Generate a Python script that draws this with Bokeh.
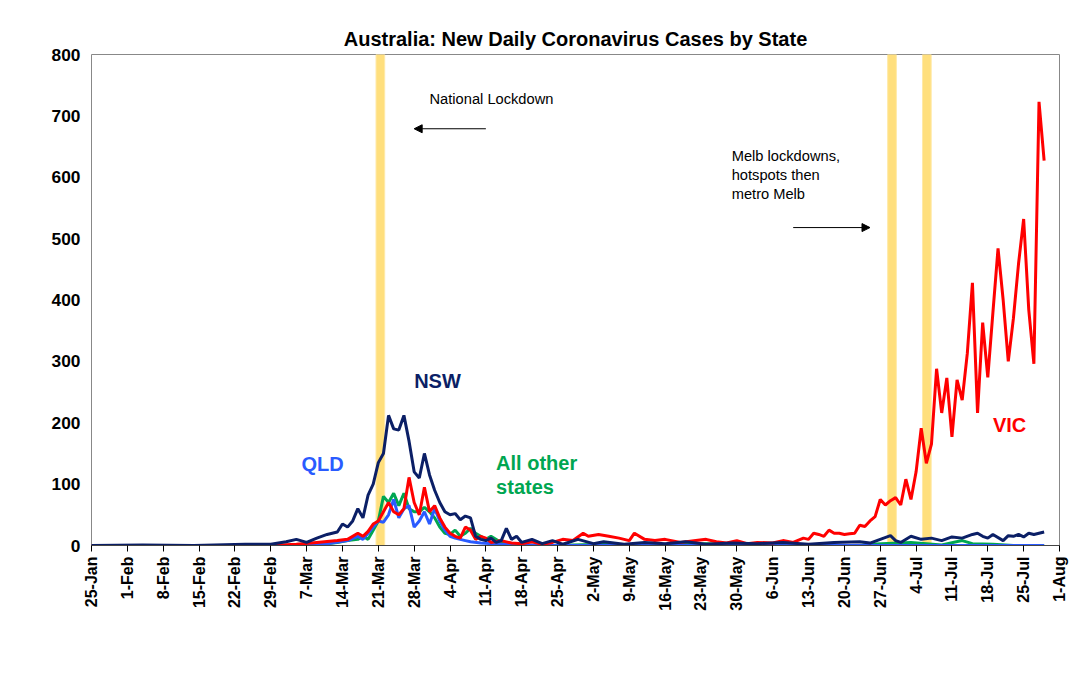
from bokeh.plotting import figure
from bokeh.models import Label, Arrow, NormalHead, FixedTicker, Range1d
from bokeh.embed import file_html
from bokeh.resources import INLINE
import math

tick_days = list(range(0, 190, 7))
tick_labels = ["25-Jan","1-Feb","8-Feb","15-Feb","22-Feb","29-Feb","7-Mar","14-Mar","21-Mar","28-Mar",
               "4-Apr","11-Apr","18-Apr","25-Apr","2-May","9-May","16-May","23-May","30-May","6-Jun",
               "13-Jun","20-Jun","27-Jun","4-Jul","11-Jul","18-Jul","25-Jul","1-Aug"]
lockdown_days = [56.4, 156.3, 163.1]

nsw_d = [0,10,20,30,35,38,40,42,44,46,48,49,50,51,52,53,54,55,56,57,58,59,60,61,62,63,64,65,66,67,68,69,70,71,72,73,74,75,76,77,78,79,80,81,82,83,84,86,88,90,92,95,98,100,104,108,112,116,120,125,130,135,140,145,150,152,154,156,157,158,160,162,164,166,168,170,172,173,174,175,176,178,179,180,181,182,183,184,185,186]
nsw_v = [0,1,0,2,2,6,10,5,12,18,22,35,30,40,60,45,82,100,135,150,212,190,188,212,170,120,110,150,115,90,70,55,50,52,42,48,45,15,10,8,12,5,8,28,10,15,5,10,3,8,2,10,3,6,2,5,3,6,2,4,3,5,2,5,6,4,10,16,8,5,15,10,12,8,14,12,18,20,15,12,18,8,16,15,18,14,20,18,20,22]

vic_d = [0,35,40,44,48,50,52,53,54,55,56,57,58,59,60,61,62,63,64,65,66,67,68,69,70,71,72,73,74,75,76,77,78,80,82,84,86,88,90,92,94,96,97,99,101,103,105,106,108,110,112,115,118,120,122,124,126,128,130,133,135,137,139,140,141,142,143,144,145,
         146,147,148,149,150,151,152,153,154,155,156,157,158,159,160,161,162,163,164,165,166,167,168,169,170,171,172,173,174,175,176,177,178,179,180,181,182,183,184,185,186]
vic_v = [0,0,2,5,8,10,20,15,23,35,40,55,70,55,50,60,111,70,50,95,55,65,45,30,20,15,12,30,25,10,15,12,5,8,4,3,6,2,5,10,8,20,15,18,15,12,8,20,10,8,10,5,8,10,6,4,8,3,5,4,8,5,12,10,20,18,15,25,20,
         20,18,19,20,33,31,40,47,75,66,73,78,66,108,75,120,191,134,165,288,216,273,177,270,237,313,428,216,363,274,380,484,400,300,370,459,532,384,296,723,627]

oth_d = [0,40,45,48,50,52,53,54,55,56,57,58,59,60,61,62,63,64,65,66,67,68,69,70,71,72,73,74,75,76,77,78,80,82,84,90,100,110,120,130,140,150,152,160,163,166,170,172,176,180,186]
oth_v = [0,0,2,5,8,10,15,10,25,40,80,70,85,65,85,60,55,55,62,55,45,30,20,18,25,15,20,28,20,15,10,15,5,3,1,0,2,1,3,1,0,0,2,5,3,1,8,3,2,0,0]

qld_d = [0,40,46,50,52,53,54,55,56,57,58,59,60,61,62,63,64,65,66,67,68,69,70,71,72,73,74,76,80,85,90,186]
qld_v = [0,0,3,8,15,10,20,30,40,38,50,75,45,60,65,30,40,55,35,60,40,25,15,12,10,8,6,4,2,1,0,0]

p = figure(width=1085, height=693, output_backend="svg", toolbar_location=None,
           x_range=Range1d(0, 189), y_range=Range1d(0, 800),
           min_border_left=91, min_border_right=26, min_border_top=54, min_border_bottom=148)
p.title.text = "Australia: New Daily Coronavirus Cases by State"
p.title.align = "center"
p.title.text_color = "black"
p.title.text_font = "Liberation Sans"
p.title.text_font_size = "15pt"
p.title.text_font_style = "bold"
p.xgrid.visible = False
p.ygrid.visible = False
p.outline_line_color = "#888888"

p.vbar(x=lockdown_days, top=800, bottom=0, width=1.7, fill_color="#FFD966", fill_alpha=0.85,
       line_color="#FFE9A8", line_width=1)

p.line(oth_d, oth_v, line_color="#00A651", line_width=3)
p.line(qld_d, qld_v, line_color="#2A5BFF", line_width=3)
p.line(vic_d, vic_v, line_color="#FF0000", line_width=3)
p.line(nsw_d, nsw_v, line_color="#0B1F66", line_width=3)

p.xaxis.ticker = FixedTicker(ticks=tick_days)
p.xaxis.major_label_overrides = {d: l for d, l in zip(tick_days, tick_labels)}
p.xaxis.major_label_orientation = math.pi / 2
p.yaxis.ticker = FixedTicker(ticks=list(range(0, 900, 100)))
for ax in (p.xaxis, p.yaxis):
    ax.major_label_text_font = "Liberation Sans"
    ax.major_label_text_font_style = "bold"
    ax.major_label_text_color = "black"
    ax.axis_line_color = "#444444"
    ax.minor_tick_line_color = None
p.xaxis.major_label_text_font_size = "12pt"
p.yaxis.major_label_text_font_size = "13pt"
p.yaxis.major_tick_line_color = None
p.xaxis.major_tick_in = 0
p.xaxis.major_tick_out = 6
p.yaxis.axis_line_color = None

def lab(x, y, t, c, size="15pt", bold=True):
    p.add_layout(Label(x=x, y=y, text=t, text_color=c, text_font="Liberation Sans",
                       text_font_size=size, text_font_style="bold" if bold else "normal",
                       text_baseline="middle"))

lab(63, 268, "NSW", "#0B1F66")
lab(41, 133, "QLD", "#2A5BFF")
lab(79, 135, "All other", "#00A651")
lab(79, 95, "states", "#00A651")
lab(176, 196, "VIC", "#FF0000")
lab(66, 728, "National Lockdown", "black", "11pt", False)
p.add_layout(Label(x=125, y=648, text="Melb lockdowns,\nhotspots then\nmetro Melb", text_color="black",
                   text_font="Liberation Sans", text_font_size="11pt", text_baseline="top"))
p.add_layout(Arrow(x_start=77, y_start=679, x_end=63, y_end=679, line_width=1,
                   end=NormalHead(size=8, fill_color="black")))
p.add_layout(Arrow(x_start=137, y_start=518, x_end=152, y_end=518, line_width=1,
                   end=NormalHead(size=8, fill_color="black")))

p.add_layout(Label(x=-69, y=-118, x_units="screen", y_units="screen",
                   text="Sources: Covid19data.com.au, AMP Capital", text_font="Liberation Sans",
                   text_font_size="19pt", text_baseline="middle"))

open("out.html", "w").write(file_html(p, INLINE))
